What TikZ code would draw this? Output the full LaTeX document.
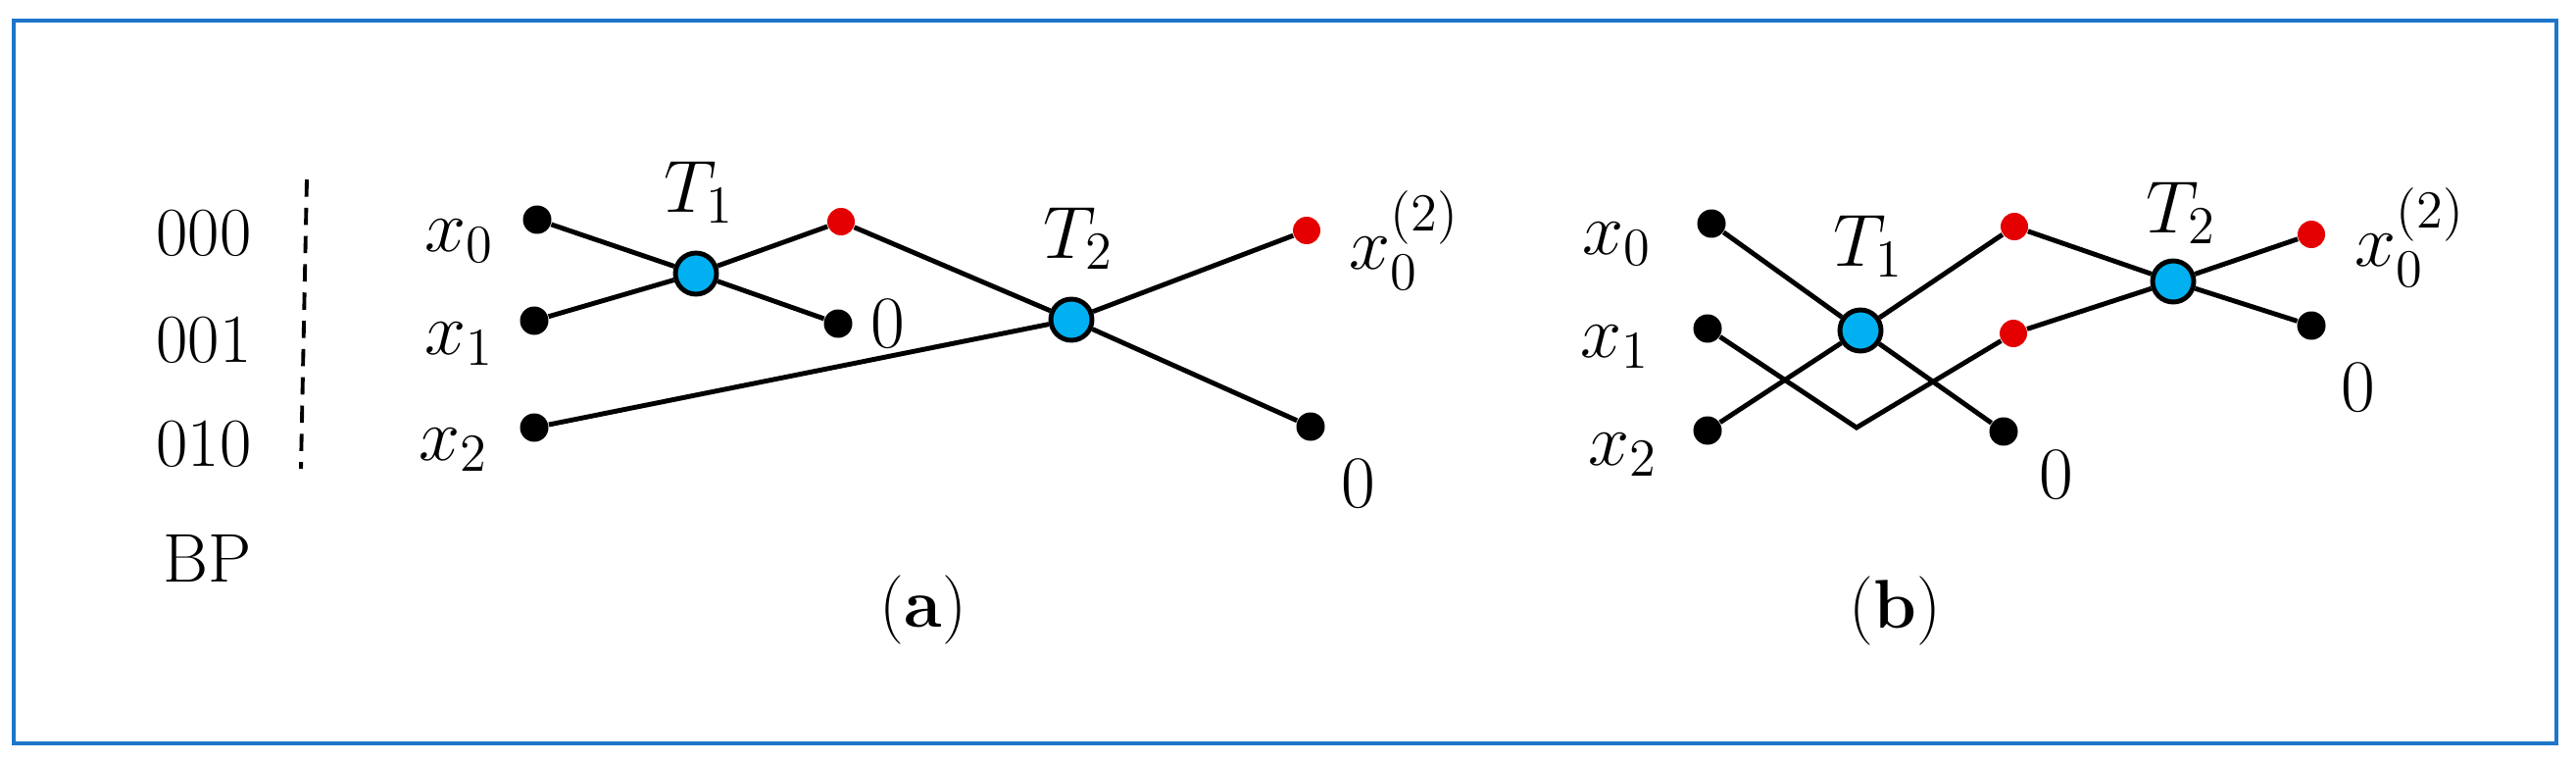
\RequirePackage{fix-cm}
\documentclass[tikz,border=0pt]{standalone}
\usepackage{amsmath}
\usetikzlibrary{positioning}
\definecolor{framecolor}{RGB}{30,118,200}
\definecolor{twiddlecolor}{RGB}{0,176,240}
\definecolor{partialcolor}{RGB}{228,0,0}
\DeclareMathSizes{21.5}{21.5}{15.5}{12}

\begin{document}
\begin{tikzpicture}[
    every node/.style={inner sep=0pt},
    bitlabel/.style={font=\fontsize{20}{24}\selectfont},
    varlabel/.style={font=\fontsize{21.5}{26}\selectfont},
    sublabel/.style={font=\fontsize{20}{24}\selectfont},
    pt/.style={circle, fill=black, minimum size=0.29cm},
    redpt/.style={circle, fill=partialcolor, minimum size=0.28cm},
    twiddle/.style={circle, draw=black, fill=twiddlecolor, line width=1.4pt,
                    minimum size=0.42cm},
    wire/.style={line width=1.4pt},
]

\useasboundingbox (0,0) rectangle (26.28,7.76);

%% ── Frame ────────────────────────────────────────────────────────────────────
\draw[framecolor, line width=0.9pt] (0.14,0.18) rectangle (26.08,7.55);

%% ── Bit patterns ─────────────────────────────────────────────────────────────
\node[bitlabel] (bp0) at (2.08,5.38) {000};
\node[bitlabel] (bp1) at (2.08,4.29) {001};
\node[bitlabel] (bp2) at (2.08,3.23) {010};
\node[bitlabel] (bp)  at (2.12,2.07) {BP};

\coordinate (septop) at (3.13,5.93);
\coordinate (sepbot) at (3.07,2.98);
\draw[dashed, dash pattern=on 5pt off 3.2pt, line width=1.1pt] (septop) -- (sepbot);

%% ── Panel (a) ────────────────────────────────────────────────────────────────
\node[pt] (a0) at (5.48,5.52) {};
\node[pt] (a1) at (5.45,4.49) {};
\node[pt] (a2) at (5.45,3.40) {};
\node[varlabel] (xa0) at (4.69,5.30) {$x_0$};
\node[varlabel] (xa1) at (4.69,4.25) {$x_1$};
\node[varlabel] (xa2) at (4.63,3.17) {$x_2$};

\node[twiddle] (ta1) at (7.10,4.97) {};
\node[varlabel] (ta1lbl) at (7.13,5.80) {$T_1$};
\node[redpt] (ra1) at (8.58,5.50) {};
\node[pt] (za1) at (8.55,4.46) {};
\node[varlabel] (za1lbl) at (9.06,4.46) {0};

\node[twiddle] (ta2) at (10.93,4.50) {};
\node[varlabel] (ta2lbl) at (11.00,5.33) {$T_2$};
\node[redpt] (ra2) at (13.33,5.41) {};
\node[varlabel, anchor=west] (ya0) at (13.76,5.31) {$x_0^{(2)}$};
\node[pt] (za2) at (13.37,3.41) {};
\node[varlabel] (za2lbl) at (13.86,2.83) {0};

\draw[wire] (a0) -- (ta1) -- (za1);
\draw[wire] (a1) -- (ta1) -- (ra1);
\draw[wire] (ra1) -- (ta2) -- (za2);
\draw[wire] (a2) -- (ta2) -- (ra2);

\node[sublabel] (capa) at (9.42,1.54) {(\textbf{a})};

%% ── Panel (b) ────────────────────────────────────────────────────────────────
\node[pt] (b0) at (17.46,5.48) {};
\node[pt] (b1) at (17.42,4.41) {};
\node[pt] (b2) at (17.42,3.37) {};
\node[varlabel] (xb0) at (16.50,5.27) {$x_0$};
\node[varlabel] (xb1) at (16.48,4.22) {$x_1$};
\node[varlabel] (xb2) at (16.56,3.12) {$x_2$};

\node[twiddle] (tb1) at (18.98,4.39) {};
\node[varlabel] (tb1lbl) at (19.06,5.25) {$T_1$};
\coordinate (vb) at (18.94,3.40);
\node[redpt] (rb1) at (20.55,5.45) {};
\node[redpt] (rb2) at (20.54,4.36) {};
\node[pt] (zb1) at (20.44,3.36) {};
\node[varlabel] (zb1lbl) at (20.98,2.92) {0};

\node[twiddle] (tb2) at (22.17,4.89) {};
\node[varlabel] (tb2lbl) at (22.25,5.59) {$T_2$};
\node[redpt] (rb3) at (23.58,5.37) {};
\node[varlabel, anchor=west] (yb0) at (24.02,5.34) {$x_0^{(2)}$};
\node[pt] (zb2) at (23.58,4.44) {};
\node[varlabel] (zb2lbl) at (24.06,3.81) {0};

\draw[wire] (b0) -- (tb1) -- (zb1);
\draw[wire] (b2) -- (tb1) -- (rb1);
\draw[wire] (b1) -- (vb) -- (rb2);
\draw[wire] (rb1) -- (tb2) -- (zb2);
\draw[wire] (rb2) -- (tb2) -- (rb3);

\node[sublabel] (capb) at (19.33,1.53) {(\textbf{b})};

\end{tikzpicture}
\end{document}
